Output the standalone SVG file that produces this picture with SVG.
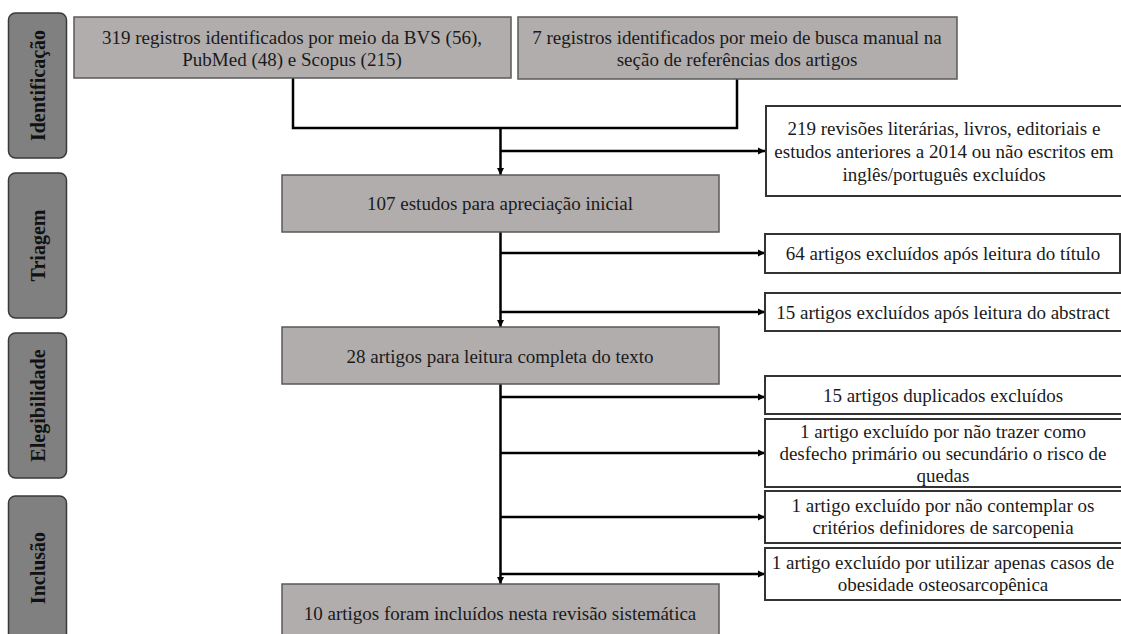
<svg xmlns="http://www.w3.org/2000/svg" width="1121" height="634" viewBox="0 0 1121 634">
<defs>
<style>
.stage{fill:#808080;stroke:#3a3a3a;stroke-width:1.5}
.stxt{font-family:'Liberation Serif','Times New Roman',Times,'DejaVu Serif',serif;font-weight:bold;font-size:20px;fill:#111;text-anchor:middle}
.gbox{fill:#b1adad;stroke:#5a5a5a;stroke-width:1.5}
.wbox{fill:#fff;stroke:#333;stroke-width:2}
.t{font-family:'Liberation Serif','Times New Roman',Times,'DejaVu Serif',serif;font-weight:normal;font-size:19px;fill:#1a1a1a;text-anchor:middle}
.c{fill:none;stroke:#000;stroke-width:2.5}
</style>
<marker id="ah" markerUnits="userSpaceOnUse" markerWidth="8" markerHeight="8" refX="7" refY="4" orient="auto">
<path d="M0,0.5 L7,4 L0,7.5 z" fill="#000"/>
</marker>
</defs>
<rect width="1121" height="634" fill="#fff"/>

<g id="stage-identificacao"><rect class="stage" x="8.5" y="13" width="58" height="145" rx="7"/><text class="stxt" transform="translate(44.5,85.5) rotate(-90)">Identificação</text></g>
<g id="stage-triagem"><rect class="stage" x="8.5" y="173" width="58" height="145" rx="7"/><text class="stxt" transform="translate(44.5,245.5) rotate(-90)">Triagem</text></g>
<g id="stage-elegibilidade"><rect class="stage" x="8.5" y="333" width="58" height="145" rx="7"/><text class="stxt" transform="translate(44.5,405.5) rotate(-90)">Elegibilidade</text></g>
<g id="stage-inclusao"><rect class="stage" x="8.5" y="496" width="58" height="150" rx="7"/><text class="stxt" transform="translate(44.5,568) rotate(-90)">Inclusão</text></g>

<g id="connectors">
<path class="c" d="M293,78 V128 H737 V79"/>
<path class="c" d="M500.5,128 V175" marker-end="url(#ah)"/>
<path class="c" d="M500.5,151 H765" marker-end="url(#ah)"/>
<path class="c" d="M500.5,232 V327" marker-end="url(#ah)"/>
<path class="c" d="M500.5,253 H765" marker-end="url(#ah)"/>
<path class="c" d="M500.5,312 H765" marker-end="url(#ah)"/>
<path class="c" d="M500.5,384 V584" marker-end="url(#ah)"/>
<path class="c" d="M500.5,397 H765" marker-end="url(#ah)"/>
<path class="c" d="M500.5,453 H765" marker-end="url(#ah)"/>
<path class="c" d="M500.5,517 H765" marker-end="url(#ah)"/>
<path class="c" d="M500.5,574 H765" marker-end="url(#ah)"/>
</g>

<g id="box-319"><rect class="gbox" x="74" y="17" width="437" height="61"/>
<text class="t" x="292" y="44">319 registros identificados por meio da BVS (56),</text>
<text class="t" x="292" y="66">PubMed (48) e Scopus  (215)</text></g>
<g id="box-7"><rect class="gbox" x="518" y="17" width="439" height="62"/>
<text class="t" x="737" y="44">7 registros identificados por meio de busca manual na</text>
<text class="t" x="737" y="66">seção de referências dos artigos</text></g>
<g id="box-219"><rect class="wbox" x="766" y="106" width="360" height="90"/>
<text class="t" x="944" y="135">219 revisões literárias, livros, editoriais e</text>
<text class="t" x="944" y="158">estudos anteriores a 2014 ou não escritos em</text>
<text class="t" x="944" y="181">inglês/português excluídos</text></g>
<g id="box-107"><rect class="gbox" x="282" y="175" width="437" height="57"/>
<text class="t" x="500" y="210">107 estudos para apreciação inicial</text></g>
<g id="box-64"><rect class="wbox" x="765" y="234" width="355" height="39"/>
<text class="t" x="943" y="259.5">64 artigos excluídos após leitura do título</text></g>
<g id="box-15a"><rect class="wbox" x="765" y="293" width="360" height="38"/>
<text class="t" x="943" y="318.5">15 artigos excluídos após leitura do abstract</text></g>
<g id="box-28"><rect class="gbox" x="282" y="327" width="437" height="57"/>
<text class="t" x="500" y="363">28 artigos para leitura completa do texto</text></g>
<g id="box-15d"><rect class="wbox" x="765" y="376" width="360" height="38"/>
<text class="t" x="943" y="402">15 artigos duplicados excluídos</text></g>
<g id="box-1a"><rect class="wbox" x="765" y="419" width="360" height="68"/>
<text class="t" x="943" y="438">1 artigo excluído por não trazer como</text>
<text class="t" x="943" y="460">desfecho primário ou secundário o risco de</text>
<text class="t" x="943" y="482">quedas</text></g>
<g id="box-1b"><rect class="wbox" x="765" y="491" width="360" height="52"/>
<text class="t" x="943" y="512">1 artigo excluído por não contemplar os</text>
<text class="t" x="943" y="534">critérios definidores de sarcopenia</text></g>
<g id="box-1c"><rect class="wbox" x="765" y="548" width="360" height="52"/>
<text class="t" x="943" y="569">1 artigo excluído por utilizar apenas casos de</text>
<text class="t" x="943" y="591">obesidade osteosarcopênica</text></g>
<g id="box-10"><rect class="gbox" x="282" y="584" width="437" height="60"/>
<text class="t" x="500" y="620">10 artigos foram incluídos nesta revisão sistemática</text></g>
</svg>
